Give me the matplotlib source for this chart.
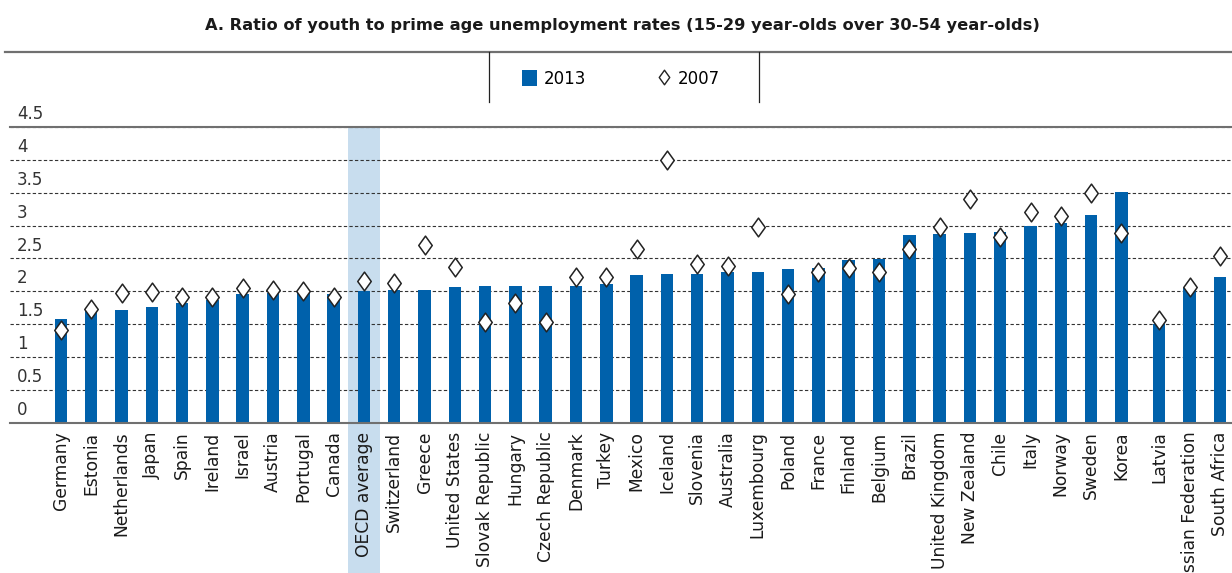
import numpy as np
import matplotlib
matplotlib.use("Agg")
import matplotlib.pyplot as plt
from matplotlib.lines import Line2D
from matplotlib.patches import Patch, Rectangle
from matplotlib.path import Path
import matplotlib.transforms as mtransforms

countries = ["Germany", "Estonia", "Netherlands", "Japan", "Spain", "Ireland", "Israel",
             "Austria", "Portugal", "Canada", "OECD average", "Switzerland", "Greece",
             "United States", "Slovak Republic", "Hungary", "Czech Republic", "Denmark",
             "Turkey", "Mexico", "Iceland", "Slovenia", "Australia", "Luxembourg", "Poland",
             "France", "Finland", "Belgium", "Brazil", "United Kingdom", "New Zealand",
             "Chile", "Italy", "Norway", "Sweden", "Korea", "Latvia", "Russian Federation",
             "South Africa"]
ratio_2013 = [1.58, 1.71, 1.72, 1.76, 1.83, 1.87, 1.96, 1.98, 1.98, 1.96, 2.01, 2.02, 2.02,
              2.06, 2.08, 2.08, 2.08, 2.08, 2.12, 2.25, 2.27, 2.27, 2.29, 2.29, 2.34,
              2.35, 2.48, 2.49, 2.85, 2.87, 2.88, 2.90, 3.00, 3.04, 3.16, 3.51, 1.50, 2.05,
              2.22]
ratio_2007 = [1.42, 1.73, 1.97, 1.99, 1.91, 1.92, 2.05, 2.02, 2.00, 1.92, 2.16, 2.13, 2.70,
              2.37, 1.53, 1.82, 1.53, 2.22, 2.22, 2.65, 4.00, 2.42, 2.38, 2.97, 1.96,
              2.29, 2.35, 2.30, 2.65, 2.97, 3.40, 2.83, 3.20, 3.15, 3.50, 2.88, 1.57, 2.06,
              2.53]
highlight = "OECD average"
non_oecd_start = "Latvia"
yticks = [0, 0.5, 1, 1.5, 2, 2.5, 3, 3.5, 4, 4.5]

blue = "#0061ab"
band = "#c8ddee"
grey = "#707070"

plt.rcParams["font.family"] = ["DejaVu Sans"]

fig = plt.figure(figsize=(12.32, 5.73), dpi=100)
ax = fig.add_axes([10 / 1232, 0.2613, 1 - 10 / 1232, 0.779 - 0.2613])

# small gap before the non-OECD group
idx = np.arange(len(countries))
x = idx + 0.25 * (idx >= countries.index(non_oecd_start))

ax.bar(x, ratio_2013, width=0.41, color=blue, zorder=2)

diamond = Path([(0, 1), (0.72, 0), (0, -1), (-0.72, 0), (0, 1)],
               [Path.MOVETO, Path.LINETO, Path.LINETO, Path.LINETO, Path.CLOSEPOLY])
ax.plot(x, ratio_2007, linestyle="none", marker=diamond, markersize=13.5,
        markerfacecolor="white", markeredgecolor="#222222", markeredgewidth=1.1, zorder=3)

# OECD average band, running down behind the label
h = countries.index(highlight)
trans = mtransforms.blended_transform_factory(ax.transData, fig.transFigure)
ax.add_patch(Rectangle((x[h] - 0.54, 0), 1.08, 0.779, transform=trans,
                       facecolor=band, edgecolor="none", clip_on=False, zorder=0.2))

ax.set_xlim(-1.68, 38.65)
ax.set_ylim(0, 4.5)
ax.set_yticks(yticks)
ax.set_yticklabels([])
ax.tick_params(axis="y", length=0)
ax.yaxis.grid(True, linestyle=(0, (3, 2)), color="#333333", linewidth=0.8)
ax.set_axisbelow(True)
for t in yticks:
    ax.text(0.0057, t + 0.06, f"{t:g}", transform=ax.get_yaxis_transform(),
            ha="left", va="bottom", fontsize=12, color="#333333")

ax.set_xticks(x)
ax.set_xticklabels(countries, rotation=90, fontsize=12.3, color="#1a1a1a")
ax.tick_params(axis="x", length=0, pad=6)

for s in ["left", "right"]:
    ax.spines[s].set_visible(False)
for s in ["top", "bottom"]:
    ax.spines[s].set_color(grey)
    ax.spines[s].set_linewidth(1.5)

fig.text(0.505, 0.956, "A. Ratio of youth to prime age unemployment rates "
         "(15-29 year-olds over 30-54 year-olds)",
         ha="center", va="center", fontsize=11.7, fontweight="bold", color="#1a1a1a")

# header rule and legend box
fig.add_artist(Line2D([5 / 1232, 1], [0.9098, 0.9098], color=grey, linewidth=1.6))
for xv in [489 / 1232, 759 / 1232]:
    fig.add_artist(Line2D([xv, xv], [0.822, 0.9098], color="#222222", linewidth=0.9))

handles = [Patch(facecolor=blue, edgecolor="none"),
           Line2D([], [], linestyle="none", marker=diamond, markersize=10.5,
                  markerfacecolor="white", markeredgecolor="#222222", markeredgewidth=1.0)]
fig.legend(handles, ["2013", "2007"], loc="center", bbox_to_anchor=(0.504, 0.862),
           ncol=2, frameon=False, fontsize=12, columnspacing=4.2, handlelength=0.9,
           handleheight=1.1, handletextpad=0.4)

fig.savefig("out.png", dpi=100)
